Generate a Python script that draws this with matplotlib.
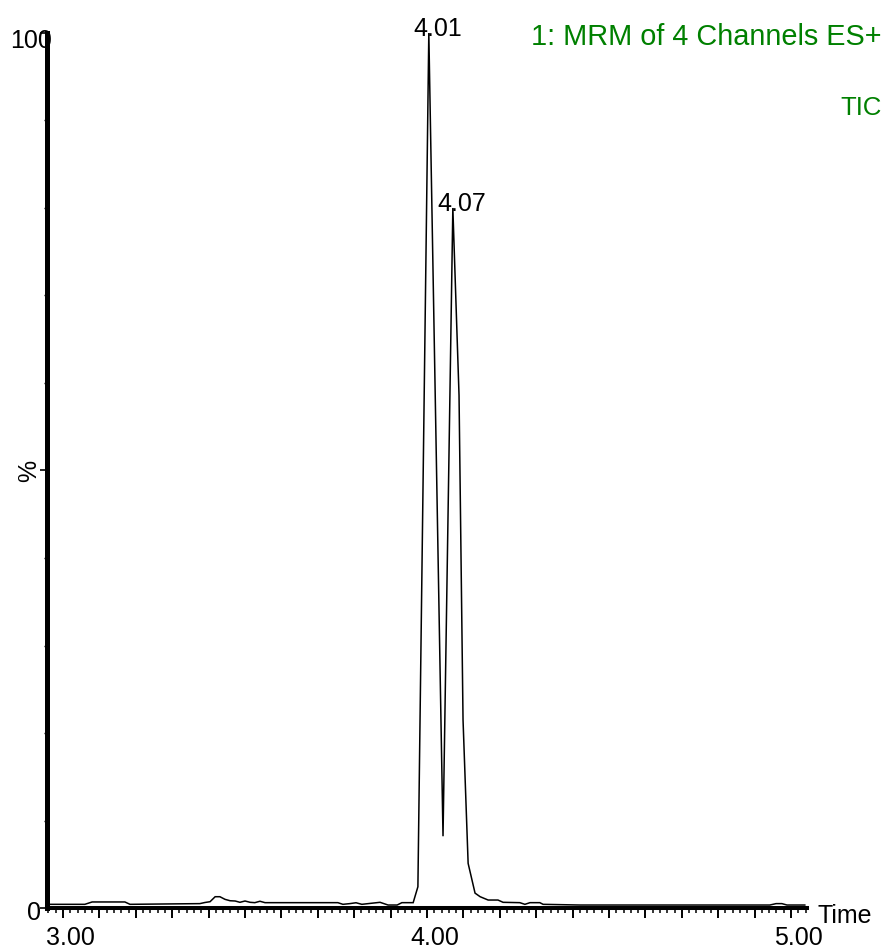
import matplotlib
matplotlib.use("Agg")
import matplotlib.pyplot as plt
from matplotlib.ticker import MultipleLocator, NullFormatter

# ---- data ----
time_min = [2.964, 3.060, 3.080, 3.170, 3.184, 3.376, 3.390, 3.404, 3.418, 3.431,
            3.445, 3.459, 3.473, 3.486, 3.500, 3.514, 3.527, 3.541, 3.555, 3.755,
            3.769, 3.788, 3.805, 3.821, 3.871, 3.893, 3.918, 3.931, 3.962, 3.975,
            4.005, 4.044, 4.071, 4.088, 4.099, 4.113, 4.132, 4.146, 4.168, 4.195,
            4.209, 4.255, 4.269, 4.283, 4.310, 4.319, 4.420, 4.942, 4.959, 4.975,
            4.989, 5.038]
intensity_pct = [0.42, 0.42, 0.69, 0.69, 0.42, 0.50, 0.63, 0.72, 1.29, 1.29,
                 0.99, 0.83, 0.80, 0.65, 0.80, 0.65, 0.61, 0.77, 0.61, 0.61,
                 0.42, 0.50, 0.60, 0.42, 0.65, 0.34, 0.34, 0.61, 0.61, 2.43,
                 100.0, 8.2, 80.0, 58.6, 21.5, 5.1, 1.7, 1.29, 0.91, 0.91,
                 0.65, 0.61, 0.42, 0.61, 0.61, 0.42, 0.34, 0.34, 0.50, 0.50,
                 0.34, 0.34]
peak_times = [4.005, 4.071]
peak_heights = [100.0, 80.0]
peak_labels = ["4.01", "4.07"]
x_tick_values = [3.0, 4.0, 5.0]
x_tick_labels = ["3.00", "4.00", "5.00"]
title_lines = ["1: MRM of 4 Channels ES+", "TIC"]

FONT = "Liberation Sans"
GREEN = "#008000"

fig = plt.figure(figsize=(8.87, 9.51), dpi=100)
ax = fig.add_axes([47 / 887, 43 / 951, 760 / 887, 875 / 951])

ax.plot(time_min, intensity_pct, color="black", lw=1.1, solid_joinstyle="miter")

ax.set_xlim(2.956, 5.044)
ax.set_ylim(0, 100)

for s in ["top", "right"]:
    ax.spines[s].set_visible(False)
ax.spines["left"].set_linewidth(3.6)
ax.spines["bottom"].set_linewidth(2.9)

ax.xaxis.set_major_locator(MultipleLocator(0.1))
ax.xaxis.set_minor_locator(MultipleLocator(0.02))
ax.yaxis.set_major_locator(MultipleLocator(50))
ax.yaxis.set_minor_locator(MultipleLocator(10))
ax.xaxis.set_major_formatter(NullFormatter())
ax.yaxis.set_major_formatter(NullFormatter())
ax.tick_params(axis="x", which="major", direction="out", length=7, width=1.4, color="black")
ax.tick_params(axis="x", which="minor", direction="out", length=3.6, width=1.1, color="black")
ax.tick_params(axis="y", which="major", direction="out", length=5.4, width=1.2, color="black")
ax.tick_params(axis="y", which="minor", direction="out", length=2.5, width=1.0, color="black")

fs = 18
for xv, lab in zip(x_tick_values, x_tick_labels):
    ax.annotate(lab, xy=(xv, 0), xycoords=("data", "axes fraction"),
                xytext=(5.5, -26.6), textcoords="offset points",
                ha="center", va="baseline", fontsize=fs, family=FONT,
                annotation_clip=False)

ax.annotate("100", xy=(0, 100), xycoords=("axes fraction", "data"),
            xytext=(3.6, -10.8), textcoords="offset points",
            ha="right", va="baseline", fontsize=fs, family=FONT, annotation_clip=False)
ax.annotate("0", xy=(0, 0), xycoords=("axes fraction", "data"),
            xytext=(-4, -8.6), textcoords="offset points",
            ha="right", va="baseline", fontsize=fs, family=FONT, annotation_clip=False)
ax.annotate("%", xy=(0, 50), xycoords=("axes fraction", "data"),
            xytext=(-12.6, 0), textcoords="offset points", rotation=90,
            ha="center", va="center", fontsize=fs, family=FONT, annotation_clip=False)
ax.annotate("Time", xy=(1, 0), xycoords="axes fraction",
            xytext=(7.9, -10.8), textcoords="offset points",
            ha="left", va="baseline", fontsize=fs, family=FONT, annotation_clip=False)

for pt, ph, pl in zip(peak_times, peak_heights, peak_labels):
    ax.annotate(pl, xy=(pt, ph), xycoords="data",
                xytext=(-11.2, -2.2), textcoords="offset points",
                ha="left", va="baseline", fontsize=fs, family=FONT, annotation_clip=False)

fig.text(882 / 887, (951 - 45) / 951, title_lines[0], ha="right", va="baseline",
         color=GREEN, fontsize=20.8, family=FONT)
fig.text(882 / 887, (951 - 115) / 951, title_lines[1], ha="right", va="baseline",
         color=GREEN, fontsize=18.5, family=FONT)

fig.savefig("out.png", dpi=100)
